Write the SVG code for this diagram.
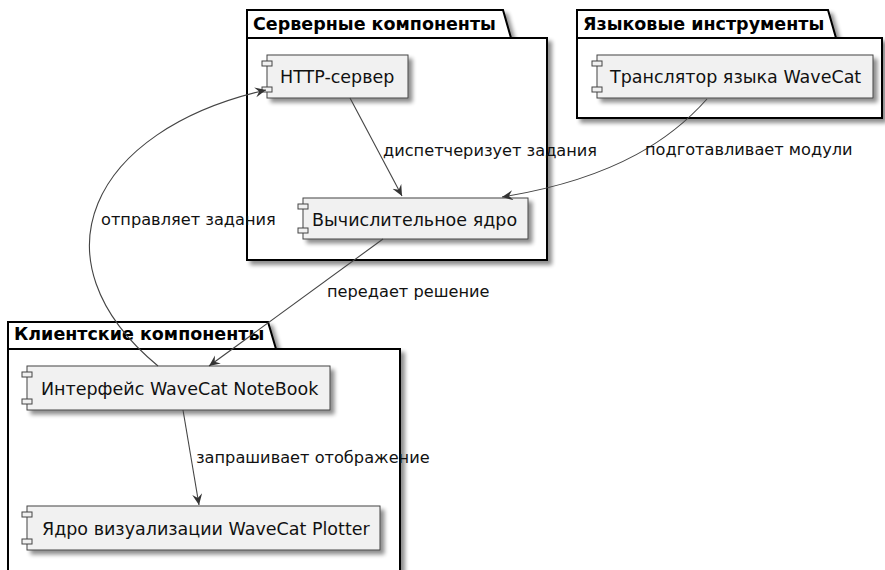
<svg xmlns="http://www.w3.org/2000/svg" width="885" height="570" viewBox="0 0 885 570">
<defs>
<filter id="sh" x="-10%" y="-10%" width="130%" height="130%">
<feGaussianBlur in="SourceAlpha" stdDeviation="2"/>
<feOffset dx="4" dy="4" result="b"/>
<feComponentTransfer><feFuncA type="linear" slope="0.45"/></feComponentTransfer>
<feMerge><feMergeNode/><feMergeNode in="SourceGraphic"/></feMerge>
</filter>
<marker id="arr" markerWidth="14" markerHeight="12" refX="11" refY="5" orient="auto" markerUnits="userSpaceOnUse">
<path d="M0,0 L11,5 L0,10 L4,5 Z" fill="#333333"/>
</marker>
<style>
.pkg{fill:#FFFFFF;stroke:#000000;stroke-width:2}
.ptitle{font-family:"DejaVu Sans",sans-serif;font-size:17.5px;font-weight:bold;fill:#000}
.comp{fill:#F1F1F1;stroke:#444444;stroke-width:1}
.port{fill:#F1F1F1;stroke:#444444;stroke-width:1}
.ctext{font-family:"DejaVu Sans",sans-serif;font-size:17.5px;fill:#111}
.edge{fill:none;stroke:#444444;stroke-width:1.1;marker-end:url(#arr)}
.elabel{font-family:"DejaVu Sans",sans-serif;font-size:16.2px;fill:#111}
</style>
</defs>
<rect width="885" height="570" fill="#FFFFFF"/>

<g id="pkg-server">
<g filter="url(#sh)">
<path class="pkg" d="M247,38 L247,10 L503,10 L511,38 Z"/>
<rect class="pkg" x="247" y="38" width="300" height="222"/>
</g>
<text class="ptitle" x="253" y="30">Серверные компоненты</text>
</g>

<g id="pkg-lang">
<g filter="url(#sh)">
<path class="pkg" d="M577,38 L577,10 L828,10 L836,38 Z"/>
<rect class="pkg" x="577" y="38" width="305" height="80"/>
</g>
<text class="ptitle" x="583" y="30">Языковые инструменты</text>
</g>

<g id="pkg-client">
<g filter="url(#sh)">
<path class="pkg" d="M8,349 L8,322 L268,322 L276,349 Z"/>
<rect class="pkg" x="8" y="349" width="392" height="230"/>
</g>
<text class="ptitle" x="14" y="340">Клиентские компоненты</text>
</g>

<g id="http">
<rect class="comp" x="267" y="55" width="141" height="43" filter="url(#sh)"/>
<rect class="port" x="262" y="61" width="10" height="5"/>
<rect class="port" x="262" y="87" width="10" height="5"/>
<text class="ctext" x="280" y="83">HTTP-сервер</text>
</g>

<g id="core">
<rect class="comp" x="303" y="198" width="225" height="41" filter="url(#sh)"/>
<rect class="port" x="298" y="204" width="10" height="5"/>
<rect class="port" x="298" y="228" width="10" height="5"/>
<text class="ctext" x="312" y="226">Вычислительное ядро</text>
</g>

<g id="translator">
<rect class="comp" x="597" y="55" width="276" height="43" filter="url(#sh)"/>
<rect class="port" x="592" y="61" width="10" height="5"/>
<rect class="port" x="592" y="87" width="10" height="5"/>
<text class="ctext" x="610" y="83">Транслятор языка WaveCat</text>
</g>

<g id="notebook">
<rect class="comp" x="27" y="366" width="303" height="44" filter="url(#sh)"/>
<rect class="port" x="22" y="372" width="10" height="5"/>
<rect class="port" x="22" y="399" width="10" height="5"/>
<text class="ctext" x="41" y="395">Интерфейс WaveCat NoteBook</text>
</g>

<g id="plotter">
<rect class="comp" x="27" y="506" width="353" height="44" filter="url(#sh)"/>
<rect class="port" x="22" y="512" width="10" height="5"/>
<rect class="port" x="22" y="539" width="10" height="5"/>
<text class="ctext" x="42" y="535">Ядро визуализации WaveCat Plotter</text>
</g>

<g id="connectors">
<path class="edge" d="M350,98 L402,196"/>
<text class="elabel" x="383" y="156">диспетчеризует задания</text>
<path class="edge" d="M707,99 C675,135 620,178 502,197"/>
<text class="elabel" x="645" y="155">подготавливает модули</text>
<path class="edge" d="M383,239 L209,366"/>
<text class="elabel" x="327" y="297">передает решение</text>
<path class="edge" d="M158,366 C30,260 90,130 266,90"/>
<text class="elabel" x="101" y="225">отправляет задания</text>
<path class="edge" d="M183,410 L199,505"/>
<text class="elabel" x="196" y="463">запрашивает отображение</text>
</g>
</svg>
